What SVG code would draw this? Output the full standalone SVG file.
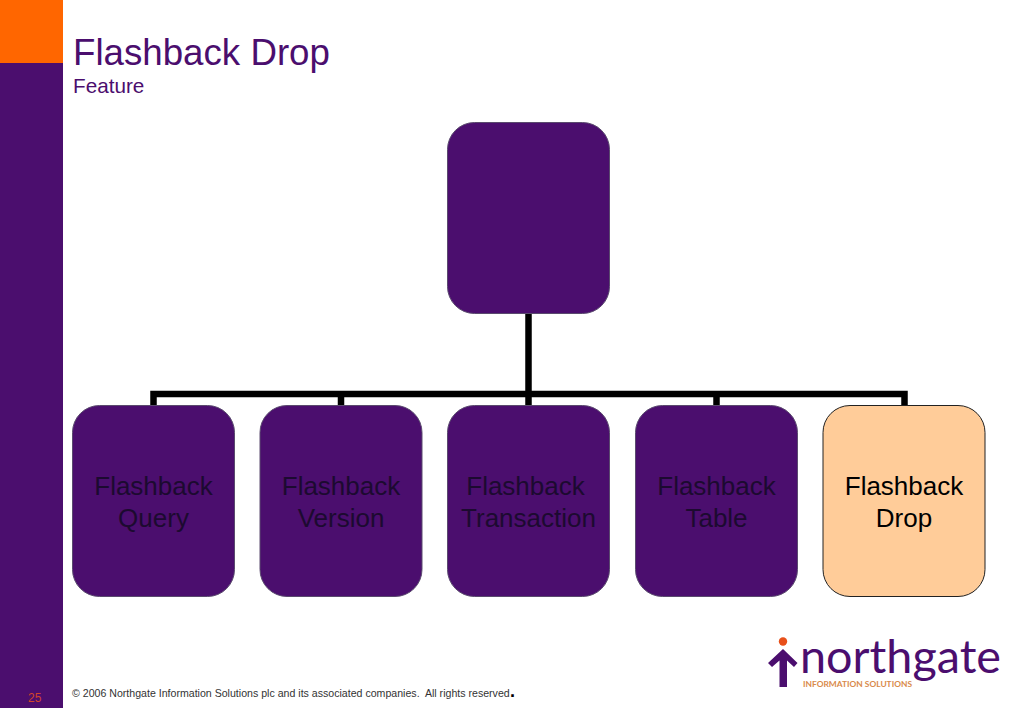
<svg xmlns="http://www.w3.org/2000/svg" width="1023" height="708" viewBox="0 0 1023 708">
<style>
text{font-family:"Liberation Sans",Arial,sans-serif}
.box{fill:#4b0e6e;stroke:#5a4a6e;stroke-width:1}
.hi{fill:#ffcc99;stroke:#222;stroke-width:1}
.lbl{font-size:26px;text-anchor:middle;fill:#000}
.dark{fill:#1c0a30}
.conn{fill:none;stroke:#000;stroke-width:6.5;stroke-linejoin:miter}
</style>
<rect width="1023" height="708" fill="#fff"/>
<rect id="sidebar" x="0" y="0" width="63" height="708" fill="#4b0e6e"/>
<rect id="corner" x="0" y="0" width="63" height="63" fill="#ff6600"/>
<text x="73" y="65" font-size="36.700" fill="#4b0e6e">Flashback Drop</text>
<text x="73" y="93" font-size="20.700" fill="#4b0e6e">Feature</text>
<g id="connectors">
<path class="conn" d="M528.500 313V394M153.500 405V394H904.500V405M341 405V394M528.500 405V394M716.500 405V394"/>
</g>
<g id="root"><rect class="box" x="447.500" y="122.500" width="162" height="191" rx="27"/></g>
<g id="n1"><rect class="box" x="72.500" y="405.500" width="162" height="191" rx="27"/><text class="lbl dark" x="153.500" y="495">Flashback</text><text class="lbl dark" x="153.500" y="526.500">Query</text></g>
<g id="n2"><rect class="box" x="260" y="405.500" width="162" height="191" rx="27"/><text class="lbl dark" x="341" y="495">Flashback</text><text class="lbl dark" x="341" y="526.500">Version</text></g>
<g id="n3"><rect class="box" x="447.500" y="405.500" width="162" height="191" rx="27"/><text class="lbl dark" x="525.500" y="495">Flashback</text><text class="lbl dark" x="528.500" y="526.500">Transaction</text></g>
<g id="n4"><rect class="box" x="635.500" y="405.500" width="162" height="191" rx="27"/><text class="lbl dark" x="716.500" y="495">Flashback</text><text class="lbl dark" x="716.500" y="526.500">Table</text></g>
<g id="n5"><rect class="hi" x="823" y="405.500" width="162" height="191" rx="27"/><text class="lbl" x="904" y="495">Flashback</text><text class="lbl" x="904" y="526.500">Drop</text></g>
<text x="28" y="702" font-size="12" fill="#d0442a">25</text>
<text x="72" y="697" font-size="10.600" fill="#333">© 2006 Northgate Information Solutions plc and its associated companies.&#160; All rights reserved</text>
<text x="510" y="697" font-size="18" font-weight="bold" fill="#000">.</text>
<g id="logo">
<circle cx="783" cy="641.500" r="4.200" fill="#e8501a"/>
<path d="M783 649L797.500 663L794 667L787 660.500V687H779.500V660.500L772 667L768 663Z" fill="#4b0e6e"/>
<text x="800" y="673" font-size="47" fill="#4b0e6e" style="font-family:Lato,'Liberation Sans',sans-serif" textLength="201" lengthAdjust="spacingAndGlyphs">northgate</text>
<text x="803" y="687" font-size="8" font-weight="bold" fill="#d98a4a" style="font-family:Lato,'Liberation Sans',sans-serif" textLength="109" lengthAdjust="spacingAndGlyphs">INFORMATION SOLUTIONS</text>
</g>
</svg>
